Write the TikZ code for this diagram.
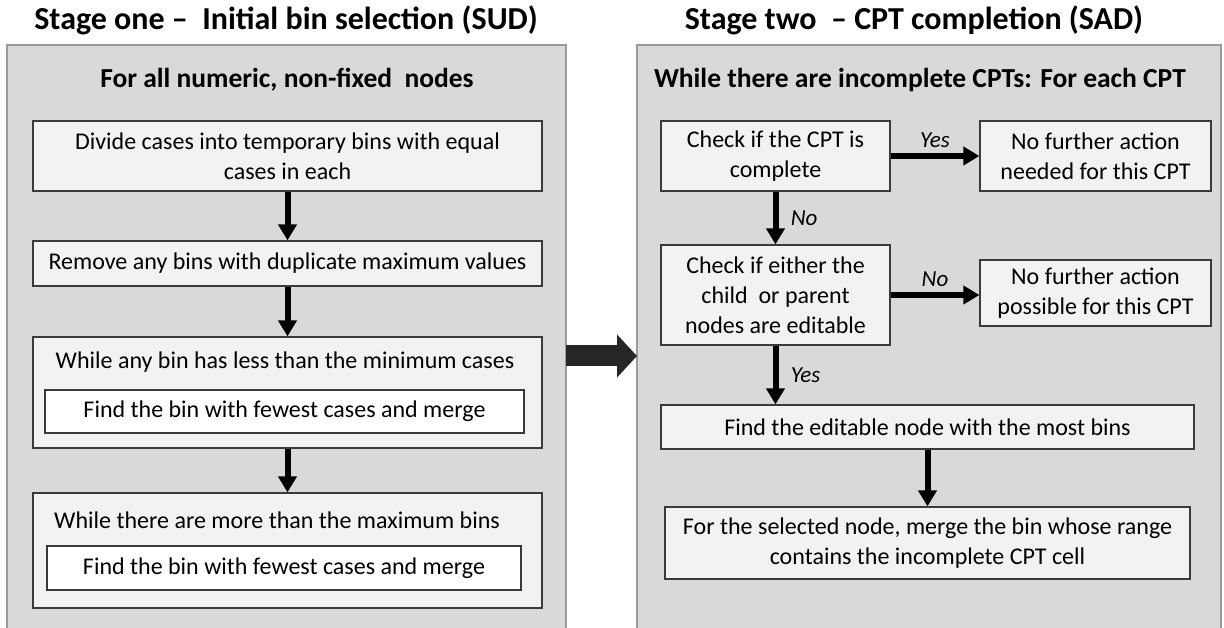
\documentclass[tikz,border=0pt]{standalone}
\usepackage{fontspec}
\setmainfont{Carlito}
\usetikzlibrary{arrows.meta}
\definecolor{panelfill}{HTML}{D9D9D9}
\definecolor{paneledge}{HTML}{9A9A9A}
\definecolor{boxfill}{HTML}{F2F2F2}
\definecolor{boxedge}{HTML}{3A3A3A}
\definecolor{bigarrow}{HTML}{262626}
\begin{document}
\begin{tikzpicture}[x=1pt,y=-1pt,
  every node/.style={font=\fontsize{24}{30}\selectfont},
  panel/.style={draw=paneledge,fill=panelfill,line width=1.2pt},
  heading/.style={font=\fontsize{32}{38}\selectfont\bfseries},
  subheading/.style={font=\fontsize{27.5}{33}\selectfont\bfseries},
  stepbox/.style={draw=boxedge,fill=boxfill,line width=1.2pt,inner sep=0pt,align=center},
  innerbox/.style={draw=boxedge,fill=white,line width=1.2pt,inner sep=0pt,align=center},
  flow/.style={line width=6pt,-{Triangle[width=18pt,length=16pt]}},
  lbl/.style={font=\fontsize{23}{27}\selectfont\itshape},
]
\useasboundingbox (0,0) rectangle (1224,628);
\begin{scope}
\clip (0,0) rectangle (1224,628);
% the two stage panels run off the bottom edge
\draw[panel] (7,45) rectangle (566,640);
\draw[panel] (637,45) rectangle (1221,640);
\end{scope}

% headings
\node[heading] (h1) at (286,20) {Stage one –\ \ Initial bin selection (SUD)};
\node[heading] (h2) at (914,20) {Stage two\ \ – CPT completion (SAD)};
\node[subheading] (s1) at (287,80) {For all numeric, non-fixed\ \ nodes};
\node[subheading] (s2) at (920,80) {While there are incomplete CPTs: For each CPT};

% stage one
\node[stepbox,minimum width=509pt,minimum height=70pt] (l1) at (287.5,156)
  {Divide cases into temporary bins with equal\\cases in each};
\node[stepbox,minimum width=509pt,minimum height=45pt] (l2) at (287.5,263.5)
  {Remove any bins with duplicate maximum values};
\node[stepbox,minimum width=509pt,minimum height=111pt] (l3) at (287.5,392.5) {};
\node (l3t) at (285,362) {While any bin has less than the minimum cases};
\node[innerbox,minimum width=479pt,minimum height=43pt] (l3i) at (284.5,411.5)
  {Find the bin with fewest cases and merge};
\node[stepbox,minimum width=509pt,minimum height=115pt] (l4) at (287.5,550.5) {};
\node (l4t) at (277,520) {While there are more than the maximum bins};
\node[innerbox,minimum width=474pt,minimum height=44pt] (l4i) at (284,568)
  {Find the bin with fewest cases and merge};

\draw[flow] (l1.south) -- (l2.north);
\draw[flow] (l2.south) -- (l3.north);
\draw[flow] (l3.south) -- (l4.north);

% hand-over from stage one to stage two
\coordinate (bs) at (566,356);
\coordinate (bt) at (637,356);
\draw[bigarrow,line width=21pt,-{Triangle[width=42pt,length=20pt]}] (bs) -- (bt);

% stage two
\node[stepbox,minimum width=229pt,minimum height=70pt] (r1) at (775.5,156)
  {Check if the CPT is\\complete};
\node[stepbox,minimum width=231pt,minimum height=70pt] (r2) at (1095.5,156)
  {No further action\\needed for this CPT};
\node[stepbox,minimum width=229pt,minimum height=100pt] (r3) at (775.5,295)
  {Check if either the\\child\ \ or parent\\nodes are editable};
\node[stepbox,minimum width=231pt,minimum height=66pt] (r4) at (1095.5,293)
  {No further action\\possible for this CPT};
\node[stepbox,minimum width=533pt,minimum height=44pt] (r5) at (927.5,427)
  {Find the editable node with the most bins};
\node[stepbox,minimum width=525pt,minimum height=72pt] (r6) at (927.5,543)
  {For the selected node, merge the bin whose range\\contains the incomplete CPT cell};

\draw[flow] (r1.east) -- node[lbl,above=2pt] {Yes} (r2.west);
\draw[flow] (r1.south) -- node[lbl,right=9pt] {No} (r3.north);
\draw[flow] (r3.east) -- node[lbl,above=2pt] {No} (r4.west |- r3.east);
\draw[flow] (r3.south) -- node[lbl,right=9pt] {Yes} (r5.north -| r3.south);
\draw[flow] (r5.south) -- (r6.north);
\end{tikzpicture}
\end{document}
